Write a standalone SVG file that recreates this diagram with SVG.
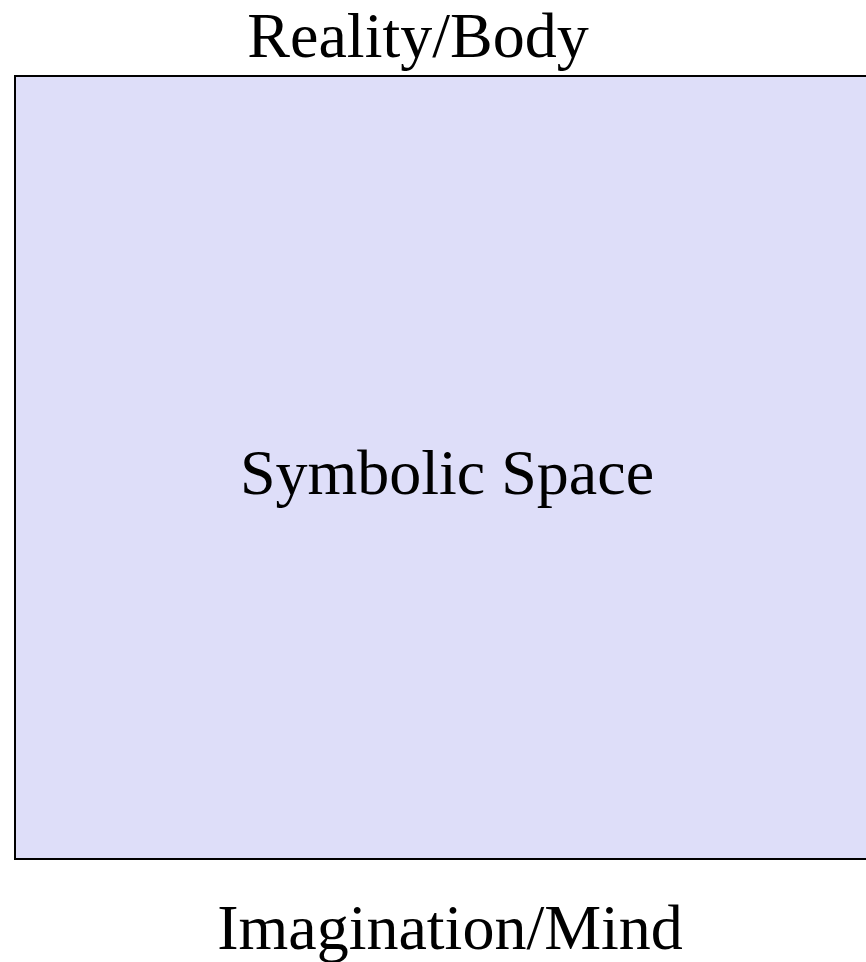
<svg xmlns="http://www.w3.org/2000/svg" width="866" height="962" viewBox="0 0 866 962">
<style>
.lbl{font-family:"Liberation Serif","Times New Roman",serif;font-size:64px;fill:#000;text-anchor:middle}
.box{fill:#dedef9;stroke:#000;stroke-width:2}
</style>
<rect x="0" y="0" width="866" height="962" fill="#fff"/>
<g id="symbolic-space">
<rect class="box" x="15" y="76" width="870" height="783"/>
<text class="lbl" x="447" y="494">Symbolic Space</text>
</g>
<g id="reality-body">
<text class="lbl" x="418" y="57">Reality/Body</text>
</g>
<g id="imagination-mind">
<text class="lbl" x="450" y="949">Imagination/Mind</text>
</g>
<g id="connectors"></g>
</svg>
